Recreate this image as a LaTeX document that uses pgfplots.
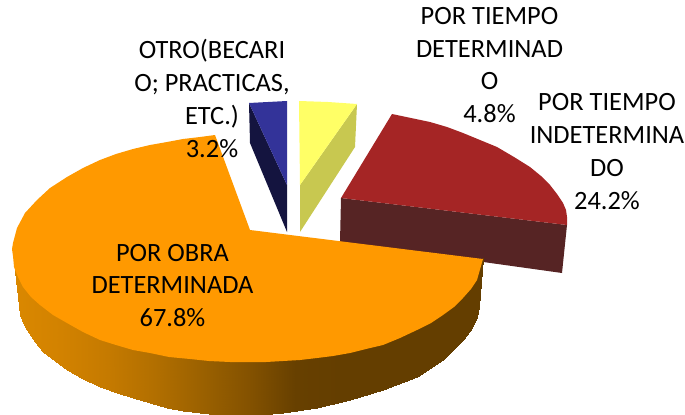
\documentclass[border=0pt]{standalone}
\usepackage{pgfplots}
\pgfplotsset{compat=1.18}
\usepackage{fontspec}
\setmainfont{Carlito}
\definecolor{cOrange}{RGB}{255,153,0}
\definecolor{cRed}{RGB}{165,37,37}
\definecolor{cRedS}{RGB}{86,36,36}
\definecolor{cBlue}{RGB}{51,51,153}
\definecolor{cBlueS}{RGB}{20,20,63}
\definecolor{cYel}{RGB}{255,255,102}
\definecolor{cYelS}{RGB}{200,200,80}
\begin{document}
\begin{tikzpicture}
\useasboundingbox (0,0) rectangle (685bp,415bp);
\begin{axis}[
  at={(0,0)}, anchor=south west,
  scale only axis, width=685bp, height=415bp,
  xmin=0, xmax=685, ymin=0, ymax=415, y dir=reverse,
  axis lines=none, clip=false,
  colormap={side}{rgb255=(218,136,0) rgb255=(210,130,0) rgb255=(197,122,0) rgb255=(178,111,0) rgb255=(155,97,0) rgb255=(132,82,0) rgb255=(103,64,0) rgb255=(100,62,0) rgb255=(100,62,0) rgb255=(100,62,0) rgb255=(100,62,0)},
  point meta min=14, point meta max=483,
  nodes={font=\fontsize{26.5}{33}\selectfont, align=center, text=black}
]
% red slice
\addplot[fill=cRedS,draw=none] coordinates {(341,198)(567,225)(562,273)(340,242)} -- cycle;
\addplot[fill=cRed,draw=none] coordinates {(341,198)(392,114)(411,118)(430,122)(447,127)(463,133)(480,140)(497,147)(514,157)(530,167)(541,176)(550,185)(557,194)(563,203)(566,210)(567,217)(567,225)} -- cycle;
% blue slice
\addplot[fill=cBlueS,draw=none] coordinates {(249,103)(287,185)(287,232)(250,143)} -- cycle;
\addplot[fill=cBlue,draw=none] coordinates {(249,103)(268,102)(287,101)(287,185)} -- cycle;
% yellow slice
\addplot[fill=cYelS,draw=none] coordinates {(357,104)(355,147)(300,232)(300,185)} -- cycle;
\addplot[fill=cYel,draw=none] coordinates {(299,101)(328,102)(357,104)(300,185)} -- cycle;
% orange side
\addplot[surf,shader=interp,mesh/rows=2,point meta=x] coordinates {
(14,262)(16,268)(20,278)(30,292)(40,302)(53,312)(67,320)(83,328)(100,336)(116,341)(133,346)(150,349)(167,352)(183,354)(200,356)(217,357)(250,358)(283,357)(317,354)(350,349)(383,341)(417,326)(443,311)(463,294)(472,284)(477,276)(483,258)
(20,315)(23,323)(27,330)(35,342)(43,352)(55,361)(67,370)(83,379)(100,387)(117,393)(133,398)(150,403)(167,408)(183,411)(200,413)(217,415)(250,416)(283,413)(317,408)(350,400)(383,390)(417,377)(443,360)(463,340)(472,328)(477,317)(479,307)
};
% orange top
\addplot[fill=cOrange,draw=none] coordinates {(250,230)(483,259)(481,266)(477,280)(471,289)(463,298)(454,307)(443,315)(431,323)(417,330)(400,338)(383,345)(366,349)(350,353)(333,356)(317,358)(300,360)(283,361)(266,362)(250,362)(230,362)(209,361)(190,359)(169,357)(150,353)(133,350)(116,345)(100,340)(83,332)(67,323)(53,315)(40,305)(31,297)(23,287)(18,277)(14,267)(13,256)(12,249)(13,243)(17,228)(25,213)(37,200)(50,188)(67,177)(83,168)(100,160)(116,154)(133,149)(150,145)(167,142)(183,139)(200,137)(215,135)} -- cycle;
% labels
\node at (axis cs:489.5,65) {POR TIEMPO\\DETERMINAD\\O\\4.8\%};
\node at (axis cs:607,151.5) {POR TIEMPO\\INDETERMINA\\DO\\24.2\%};
\node at (axis cs:212,98.5) {OTRO(BECARI\\O; PRACTICAS,\\ETC.)\\3.2\%};
\node at (axis cs:172.5,285.5) {POR OBRA\\DETERMINADA\\67.8\%};
\end{axis}
\end{tikzpicture}
\end{document}
